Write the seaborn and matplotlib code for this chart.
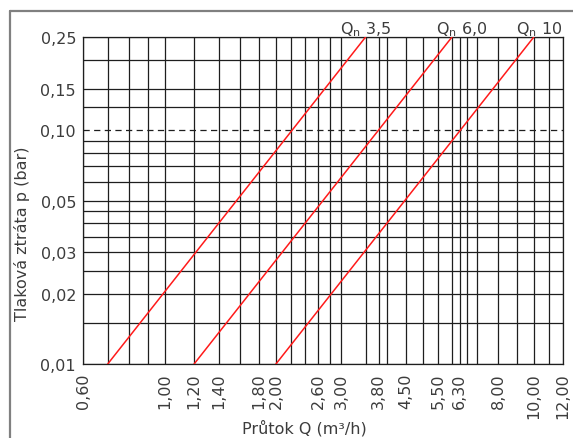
import numpy as np
import pandas as pd
import seaborn as sns
import matplotlib.pyplot as plt
from matplotlib.lines import Line2D

# mřížka a popisky os (log-log)
x_grid = [0.6, 0.7, 0.8, 0.9, 1.0, 1.2, 1.4, 1.6, 1.8, 2.0, 2.2, 2.4, 2.6, 2.8, 3.0,
          3.5, 3.8, 4.0, 4.5, 5.0, 5.5, 6.0, 6.3, 6.6, 7.0, 8.0, 9.0, 10.0, 11.0, 12.0]
x_ticks = [0.6, 1.0, 1.2, 1.4, 1.8, 2.0, 2.6, 3.0, 3.8, 4.5, 5.5, 6.3, 8.0, 10.0, 12.0]
y_grid = [0.01, 0.015, 0.02, 0.025, 0.03, 0.035, 0.04, 0.045, 0.05, 0.06, 0.07, 0.08,
          0.09, 0.10, 0.125, 0.15, 0.20, 0.25]
y_ticks = [0.01, 0.02, 0.03, 0.05, 0.10, 0.15, 0.25]

# křivky tlakové ztráty pro jednotlivé Qn
qn_names = ["3,5", "6,0", "10"]
q_start = [0.7, 1.2, 2.0]
q_end = [3.5, 6.0, 10.0]
p_start = [0.01, 0.01, 0.01]
p_end = [0.25, 0.25, 0.25]

rows = []
for name, q0, q1, p0, p1 in zip(qn_names, q_start, q_end, p_start, p_end):
    rows.append({"Q": q0, "p": p0, "Qn": name})
    rows.append({"Q": q1, "p": p1, "Qn": name})
df = pd.DataFrame(rows)

sns.set_style("white")
plt.rcParams["font.family"] = ["DejaVu Sans"]
txt = "#3c3c3c"
grid_c = "#1e1e1e"

fig = plt.figure(figsize=(5.73, 4.39), dpi=100)
ax = fig.add_axes([0.1449, 0.1686, 0.8377, 0.7448])
ax.set_xscale("log")
ax.set_yscale("log")

for x in x_grid:
    ax.axvline(x, color=grid_c, lw=0.9, zorder=1)
for y in y_grid:
    if y == 0.10:
        ax.axhline(y, color=grid_c, lw=0.9, ls=(0, (5, 3.5)), zorder=1)
    else:
        ax.axhline(y, color=grid_c, lw=0.9, zorder=1)

sns.lineplot(data=df, x="Q", y="p", hue="Qn", palette=["#ff1a1a"] * 3,
             estimator=None, sort=False, legend=False, lw=1.1, ax=ax, zorder=3)

ax.set_xlim(0.6, 12)
ax.set_ylim(0.01, 0.25)
ax.set_xticks(x_ticks, [f"{v:.2f}".replace(".", ",") for v in x_ticks],
              rotation=90)
ax.set_yticks(y_ticks, [f"{v:.2f}".replace(".", ",") for v in y_ticks])
ax.xaxis.set_minor_locator(plt.NullLocator())
ax.yaxis.set_minor_locator(plt.NullLocator())
ax.tick_params(length=0, labelsize=11.5, labelcolor=txt)
ax.tick_params(axis="x", pad=6)
ax.tick_params(axis="y", pad=5)
ax.set_xlabel("")
ax.set_ylabel("")
for s in ax.spines.values():
    s.set_color(grid_c)
    s.set_linewidth(0.9)

label_dx = [0, 10, 5]
for name, q1, p1, dx in zip(qn_names, q_end, p_end, label_dx):
    ax.annotate(r"Q$_\mathregular{n}$ " + name, (q1, p1), xytext=(dx * 0.72, 2.5),
                textcoords="offset points", ha="center", va="baseline",
                fontsize=11.5, color=txt, annotation_clip=False)

fig.text(22 / 573, 1 - 234 / 439, "Tlaková ztráta p (bar)", rotation=90,
         ha="center", va="center", fontsize=11.5, color=txt)
fig.text(304 / 573, 1 - 428 / 439, "Průtok Q (m³/h)", ha="center", va="center",
         fontsize=11.5, color=txt)

# rámeček kolem obrázku
fig.add_artist(Line2D([10 / 573, 1], [1 - 12 / 439] * 2, color="#808080", lw=1.6))
fig.add_artist(Line2D([10 / 573] * 2, [0, 1 - 12 / 439], color="#808080", lw=1.6))

fig.savefig("out.png", dpi=100)
